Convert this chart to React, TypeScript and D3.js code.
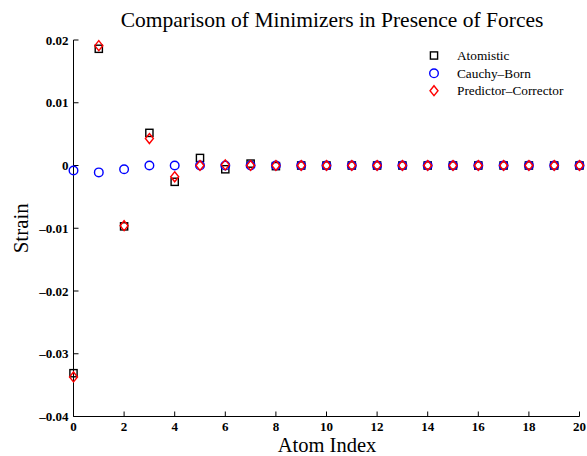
import React from "react";
import * as d3 from "d3";

const atomIndex = d3.range(0, 21);
const atomistic = [-0.0331, 0.0186, -0.0097, 0.0052, -0.0026, 0.0012, -0.0006, 0.0003, -0.0001, 0, 0, 0, 0, 0, 0, 0, 0, 0, 0, 0, 0];
const cauchyBorn = [-0.0008, -0.0011, -0.0006, 0.0, 0.0, 0, 0, 0, 0, 0, 0, 0, 0, 0, 0, 0, 0, 0, 0, 0, 0];
const predictorCorrector = [-0.0337, 0.0191, -0.0096, 0.0043, -0.0018, 0.0, 0.0001, 0, 0, 0, 0, 0, 0, 0, 0, 0, 0, 0, 0, 0, 0];
const xTicks = [0, 2, 4, 6, 8, 10, 12, 14, 16, 18, 20];
const yTicks = [-0.04, -0.03, -0.02, -0.01, 0, 0.01, 0.02];
const legendLabels = ["Atomistic", "Cauchy\u2013Born", "Predictor\u2013Corrector"];

const W = 587, H = 456;
const x = d3.scaleLinear().domain([0, 20]).range([73.5, 579.5]);
const y = d3.scaleLinear().domain([-0.04, 0.02]).range([416.5, 40]);
const font = "'Liberation Serif', 'Times New Roman', serif";

function fmt(v: number) {
  if (v === 0) return "0";
  const s = Math.abs(v).toFixed(2);
  return (v < 0 ? "\u2013" : "") + s;
}

function Square({ cx, cy }: { cx: number; cy: number }) {
  return <rect x={cx - 3.6} y={cy - 3.6} width={7.2} height={7.2} fill="none" stroke="#000" strokeWidth={1.4} />;
}
function Circle({ cx, cy }: { cx: number; cy: number }) {
  return <circle cx={cx} cy={cy} r={4.3} fill="none" stroke="#0000ff" strokeWidth={1.4} />;
}
function Diamond({ cx, cy }: { cx: number; cy: number }) {
  const p = `M${cx},${cy - 5}L${cx + 4},${cy}L${cx},${cy + 5}L${cx - 4},${cy}Z`;
  return <path d={p} fill="none" stroke="#ff0000" strokeWidth={1.4} />;
}

export default function App() {
  const x0 = x.range()[0], x1 = x.range()[1];
  const y0 = y.range()[0], y1 = y.range()[1];
  return (
    <svg width={W} height={H} style={{ position: "absolute", left: 0, top: 0, background: "#fff" }}>
      <rect width={W} height={H} fill="#fff" />
      {/* axes */}
      <line x1={x0} y1={y1} x2={x0} y2={y0} stroke="#000" strokeWidth={1} />
      <line x1={x0} y1={y0} x2={x1} y2={y0} stroke="#000" strokeWidth={1} />
      {yTicks.map((t) => (
        <g key={"y" + t}>
          <line x1={x0} x2={x0 + 5} y1={y(t)} y2={y(t)} stroke="#000" />
          <text x={x0 - 5} y={y(t) + 4.5} textAnchor="end" fontFamily={font} fontWeight="bold" fontSize={13}>
            {fmt(t)}
          </text>
        </g>
      ))}
      {xTicks.map((t) => (
        <g key={"x" + t}>
          <line x1={x(t)} x2={x(t)} y1={y0} y2={y0 - 5} stroke="#000" />
          <text x={x(t)} y={y0 + 14.5} textAnchor="middle" fontFamily={font} fontWeight="bold" fontSize={13}>
            {t}
          </text>
        </g>
      ))}
      <text x={332} y={27} textAnchor="middle" fontFamily={font} fontSize={21.5}>
        Comparison of Minimizers in Presence of Forces
      </text>
      <text x={327} y={452} textAnchor="middle" fontFamily={font} fontSize={20.5}>
        Atom Index
      </text>
      <text transform={`translate(28,${(y0 + y1) / 2}) rotate(-90)`} textAnchor="middle" fontFamily={font} fontSize={21}>
        Strain
      </text>
      {/* data */}
      {atomIndex.map((i) => (
        <Square key={"a" + i} cx={x(i)} cy={y(atomistic[i])} />
      ))}
      {atomIndex.map((i) => (
        <Circle key={"c" + i} cx={x(i)} cy={y(cauchyBorn[i])} />
      ))}
      {atomIndex.map((i) => (
        <Diamond key={"p" + i} cx={x(i)} cy={y(predictorCorrector[i])} />
      ))}
      {/* legend */}
      <Square cx={434} cy={55.5} />
      <Circle cx={434} cy={73.3} />
      <Diamond cx={434} cy={90.7} />
      {legendLabels.map((l, i) => (
        <text key={l} x={457} y={60 + i * 17.5} fontFamily={font} fontSize={13.3}>
          {l}
        </text>
      ))}
    </svg>
  );
}
